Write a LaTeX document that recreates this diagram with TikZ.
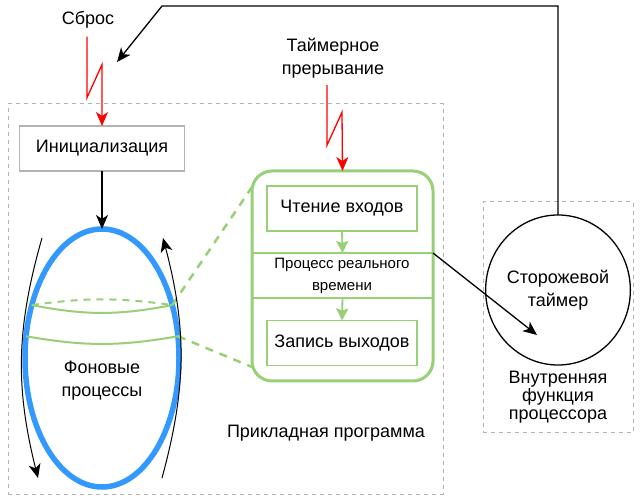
\documentclass[tikz,border=0pt]{standalone}
\usepackage{fontspec}
\setmainfont{Liberation Sans}
\usetikzlibrary{shapes.geometric, positioning, arrows.meta, calc}

\definecolor{rtgreen}{HTML}{97D077}
\definecolor{bgblue}{HTML}{3399FF}
\definecolor{framegray}{HTML}{B3B3B3}

\begin{document}
\begin{tikzpicture}[
    x=1pt, y=-1pt,
    txt/.style={
        font=\fontsize{18}{23}\selectfont,
        align=center,
        inner sep=0pt
    },
    smalltxt/.style={
        txt,
        font=\fontsize{15}{22}\selectfont
    },
    plainbox/.style={
        txt,
        rectangle,
        draw=framegray,
        line width=1.5pt,
        outer sep=0pt
    },
    stagebox/.style={
        plainbox,
        draw=rtgreen,
        minimum width=150,
        minimum height=45
    },
    rtbox/.style={
        rectangle,
        draw=rtgreen,
        line width=3pt,
        rounded corners=20pt,
        inner sep=0pt,
        outer sep=0pt
    },
    bgnode/.style={
        ellipse,
        draw=bgblue,
        line width=5.5pt,
        inner sep=0pt,
        outer sep=0pt
    },
    wdnode/.style={
        txt,
        ellipse,
        draw=black,
        line width=1.3pt,
        outer sep=0pt
    },
    frame/.style={
        rectangle,
        draw=framegray,
        line width=1pt,
        dash pattern=on 4pt off 4pt,
        inner sep=0pt
    },
    ptr/.style={
        >={Stealth[length=14pt, width=12pt, inset=4pt]},
        ->,
        line width=1.3pt,
        black
    },
    zap/.style={
        ptr,
        red,
        line join=miter
    },
    greenptr/.style={
        >={Stealth[length=12pt, width=12pt, inset=2pt]},
        ->,
        line width=1.8pt,
        rtgreen
    },
    rtline/.style={
        line width=1.5pt,
        rtgreen
    },
    linkdash/.style={
        line width=2.5pt,
        rtgreen,
        dash pattern=on 8pt off 7pt
    },
    cyclearrow/.style={
        ptr,
        line width=1pt
    }
]
    \useasboundingbox (0,0) rectangle (640,502);

    % Frames
    \node[frame, minimum width=435, minimum height=390] (app) at (225.5,299) {};
    \node[frame, minimum width=150, minimum height=231] (cpu) at (558,317.5) {};
    \node[txt] (applbl) at (326,433) {Прикладная программа};
    \node[txt, font=\fontsize{18}{18}\selectfont] (cpulbl) at (558,397) {Внутренняя\\функция\\процессора};

    % Nodes
    \node[txt] (sbros) at (88,20) {Сброс};
    \node[plainbox, minimum width=165, minimum height=45] (init) at (102,148.5) {Инициализация};
    \node[bgnode, minimum width=154, minimum height=258] (bg) at (102,358) {};
    \node[txt] (bglbl) at (102,380.5) {Фоновые\\процессы};

    \node[txt] (tint) at (333,58) {Таймерное\\прерывание};
    \node[rtbox, minimum width=181, minimum height=210] (rt) at (342.5,276) {};
    \node[stagebox] (readin) at (342,208.5) {Чтение входов};
    \node[stagebox] (writeout) at (342,343) {Запись выходов};
    \node[smalltxt] (rtlbl) at (342,276) {Процесс реального\\времени};

    \node[wdnode, minimum width=120, minimum height=150] (wd) at (558,290) {Сторожевой\\таймер};

    % Helper points
    \coordinate (sepA) at (342.5,253);
    \coordinate (sepB) at (342.5,298);
    \coordinate (wdin) at (537,335);
    \coordinate (wdbend) at (162,6);
    \coordinate (wdtip) at (117,62);
    \coordinate (cycA) at (42,238);
    \coordinate (cycB) at (38,478);
    \coordinate (cycC) at (162,478);
    \coordinate (cycD) at (163,238);

    % Stages inside the real-time process
    \draw[rtline] (rt.west |- sepA) -- (rt.east |- sepA);
    \draw[rtline] (rt.west |- sepB) -- (rt.east |- sepB);
    \draw[greenptr] (readin.south) -- (sepA);
    \draw[greenptr] (sepB) -- (writeout.north);

    % Slice of the background loop
    \draw[rtline, line width=2pt, dash pattern=on 7pt off 6pt] (bg.143) to[bend left=8] (bg.37);
    \draw[rtline, line width=2pt] (bg.143) to[bend right=11] (bg.37);
    \draw[rtline, line width=2pt] (bg.164) to[bend right=10] (bg.16);
    \draw[linkdash] (bg.37) -- ($(rt.north west)+(0,16)$);
    \draw[linkdash] (bg.16) -- ($(rt.south west)+(0,-14)$);

    % Loop direction
    \draw[cyclearrow] (cycA) to[bend right=15] (cycB);
    \draw[cyclearrow] (cycC) to[bend right=15] (cycD);

    % Control flow
    \draw[zap] (sbros.south) ++(-1,8) -- ++(0,61) -- ++(15,-33) -- (init.north);
    \draw[zap] (tint.south) ++(-6,7) -- ++(0,60) -- ++(15,-33) -- (rt.north);
    \draw[ptr] (init.south) -- (bg.north);
    \draw[ptr] (rt.east |- sepA) -- (wdin);
    \draw[ptr] (wd.north) |- (wdbend) -- (wdtip);

\end{tikzpicture}
\end{document}
